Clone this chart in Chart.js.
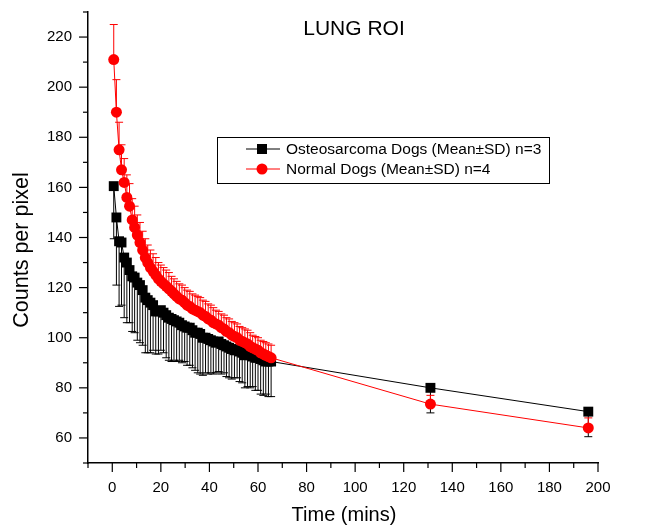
<!DOCTYPE html>
<html>
<head>
<meta charset="utf-8">
<script src="https://cdn.jsdelivr.net/npm/chart.js@4/dist/chart.umd.min.js"></script>
<style>
html,body{margin:0;padding:0;background:#fff;}
#wrap{position:relative;width:657px;height:529px;}
</style>
</head>
<body>
<div id="wrap"><canvas id="c" width="657" height="529"></canvas></div>
<script>
// ---- data ----
const times = [0.6,1.7,2.8,3.8,4.9,6.0,7.1,8.2,9.2,10.3,11.4,12.5,13.6,14.6,15.7,16.8,17.9,19.0,20.0,21.1,22.2,23.3,24.4,25.4,26.5,27.6,28.7,29.8,30.8,31.9,33.0,34.1,35.2,36.2,37.3,38.4,39.5,40.6,41.6,42.7,43.8,44.9,46.0,47.0,48.1,49.2,50.3,51.4,52.4,53.5,54.6,55.7,56.8,57.8,58.9,60.0,61.1,62.2,63.2,64.3,65.4,131,196];

const osteoMean = [160.5,148,138.5,138,132,130,127,124.5,124,122,121,119,116,115,114,113,110.5,110.5,111,110,109,108,107.5,107,106.5,106,105,104.5,104,104,103,102,102,101.5,100,100,99.5,99,98.5,98,98.5,97.5,97,96.5,96,95.5,95,95,94.5,94,93,93.5,93,92.5,92,92,91.5,91,90.5,90.5,90.5,80,70.5];
const osteoSD = [21,27,26,25,24,24,21,22,22,23,23,22,22,21,20,18,17,17,16,16,17,17,17,16,16,15,15,14,15,15,15,15,16,16,15,14,14,13,13,12,12,12,11,12,12,12,11,11,12,12,13,13,13,12,13,13,14,14,13,14,14,10,10];

const normalMean = [211,190,175,167,162,156,152.5,147,144,141,138,135,132,130,128,126.5,125,123.5,122.5,121.5,120.5,119.5,118.5,117.5,116.5,115.5,115,114,113,112.5,111.5,111,110.5,110,109,108.5,107.5,107,106,105.5,105,104,103.5,102.5,102,101,100.5,100,99,98.5,98,97.5,96.5,96,95.5,95,94,93.5,93,92.5,92,73.5,64];
const normalSD = [14,13,11,10,9.5,9,9,8.5,8.5,8,8,7.5,7.5,7,7,7,7,6.5,6.5,6.5,6.5,6.5,6,6,6,6,6,6,6,6,6,6,6,6,6,6,6,6,6,5.5,5.5,5.5,5.5,5.5,5.5,5.5,5.5,5.5,5.5,5.5,5.5,5.5,5.5,5,5,5,5,5,5,5,5,3.5,4];

const seriesNames = ['Osteosarcoma Dogs (Mean\u00B1SD) n=3', 'Normal Dogs (Mean\u00B1SD) n=4'];
const xTickLabels = [0,20,40,60,80,100,120,140,160,180,200];
const yTickLabels = [60,80,100,120,140,160,180,200,220];
const chartTitle = 'LUNG ROI';
const xTitle = 'Time (mins)';
const yTitle = 'Counts per pixel';

const FONT = '"Liberation Sans", Arial, Helvetica, sans-serif';

// ---- plugins ----
const errPlugin = {
  id: 'errbars',
  beforeDatasetDraw(chart, args) {
    const ds = chart.data.datasets[args.index];
    if (!ds.errors) return;
    const xs = chart.scales.x, ys = chart.scales.y, ctx = chart.ctx;
    ctx.save();
    ctx.strokeStyle = ds.borderColor;
    ctx.lineWidth = 1;
    ds.data.forEach((p, i) => {
      const x = xs.getPixelForValue(p.x);
      const y0 = ys.getPixelForValue(p.y);
      const y1 = ys.getPixelForValue(p.y + ds.errDir * ds.errors[i]);
      ctx.beginPath();
      ctx.moveTo(x, y0); ctx.lineTo(x, y1);
      ctx.moveTo(x - 4, y1); ctx.lineTo(x + 4, y1);
      ctx.stroke();
    });
    ctx.restore();
  }
};

const decoPlugin = {
  id: 'deco',
  afterDraw(chart) {
    const ctx = chart.ctx, xs = chart.scales.x, ys = chart.scales.y;
    const area = chart.chartArea;
    ctx.save();
    ctx.strokeStyle = '#000';
    ctx.lineWidth = 1.2;
    // x ticks
    xs.ticks.forEach(t => {
      const px = xs.getPixelForValue(t.value);
      const len = xTickLabels.includes(t.value) ? 9 : 5;
      ctx.beginPath(); ctx.moveTo(px, area.bottom); ctx.lineTo(px, area.bottom + len); ctx.stroke();
    });
    // y ticks
    ys.ticks.forEach(t => {
      const py = ys.getPixelForValue(t.value);
      const len = yTickLabels.includes(t.value) ? 9 : 5;
      ctx.beginPath(); ctx.moveTo(area.left, py); ctx.lineTo(area.left - len, py); ctx.stroke();
    });

    // titles
    ctx.fillStyle = '#000';
    ctx.textAlign = 'center';
    ctx.textBaseline = 'middle';
    ctx.font = '21px ' + FONT;
    ctx.fillText(chartTitle, 354, 29);
    ctx.font = '20px ' + FONT;
    ctx.fillText(xTitle, 344, 515);
    ctx.save();
    ctx.translate(22, 250);
    ctx.rotate(-Math.PI / 2);
    ctx.font = '21.5px ' + FONT;
    ctx.fillText(yTitle, 0, 0);
    ctx.restore();

    // legend
    ctx.lineWidth = 1;
    ctx.strokeStyle = '#000';
    ctx.strokeRect(217.5, 137.5, 332, 46);
    const rows = [
      {y: 149, color: '#000', style: 'rect'},
      {y: 169, color: '#ff0000', style: 'circle'}
    ];
    rows.forEach((r, i) => {
      ctx.strokeStyle = r.color;
      ctx.fillStyle = r.color;
      ctx.beginPath(); ctx.moveTo(246, r.y); ctx.lineTo(280, r.y); ctx.stroke();
      if (r.style === 'rect') {
        ctx.fillRect(257, r.y - 5, 10, 10);
      } else {
        ctx.beginPath(); ctx.arc(262, r.y, 5.5, 0, Math.PI * 2); ctx.fill();
      }
      ctx.fillStyle = '#000';
      ctx.textAlign = 'left';
      ctx.font = '15.5px ' + FONT;
      ctx.fillText(seriesNames[i], 286, r.y + 1);
    });
    ctx.restore();
  }
};

const ctx = document.getElementById('c').getContext('2d');
new Chart(ctx, {
  type: 'scatter',
  data: {
    datasets: [
      {
        label: seriesNames[0],
        data: times.map((t, i) => ({x: t, y: osteoMean[i]})),
        showLine: true,
        borderColor: '#000000',
        backgroundColor: '#000000',
        borderWidth: 1,
        pointStyle: 'rect',
        pointRadius: 7,
        pointBorderWidth: 0,
        pointHoverRadius: 7,
        tension: 0,
        errors: osteoSD,
        errDir: -1,
        order: 1,
        clip: false
      },
      {
        label: seriesNames[1],
        data: times.map((t, i) => ({x: t, y: normalMean[i]})),
        showLine: true,
        borderColor: '#ff0000',
        backgroundColor: '#ff0000',
        borderWidth: 1,
        pointStyle: 'circle',
        pointRadius: 5.5,
        pointBorderWidth: 0,
        pointHoverRadius: 5.5,
        tension: 0,
        errors: normalSD,
        errDir: 1,
        order: 0,
        clip: false
      }
    ]
  },
  options: {
    responsive: false,
    animation: false,
    devicePixelRatio: 1,
    layout: {padding: {left: 0, right: 59, top: 12, bottom: 0}},
    plugins: {
      legend: {display: false},
      tooltip: {enabled: false},
      title: {display: false}
    },
    scales: {
      x: {
        type: 'linear',
        min: -10, max: 200,
        afterFit(s) { s.height = 66; s.paddingLeft = 0; s.paddingRight = 0; },
        grid: {display: false, drawTicks: false},
        border: {display: true, color: '#000', width: 1.5},
        ticks: {
          stepSize: 10,
          autoSkip: false,
          maxRotation: 0,
          padding: 16,
          color: '#000',
          font: {size: 15, family: FONT},
          callback: v => xTickLabels.includes(v) ? String(v) : ''
        }
      },
      y: {
        type: 'linear',
        min: 50, max: 230,
        afterFit(s) { s.width = 88; s.paddingTop = 0; s.paddingBottom = 0; },
        grid: {display: false, drawTicks: false},
        border: {display: true, color: '#000', width: 1.5},
        ticks: {
          stepSize: 10,
          autoSkip: false,
          padding: 16,
          color: '#000',
          font: {size: 15, family: FONT},
          callback: v => yTickLabels.includes(v) ? String(v) : ''
        }
      }
    }
  },
  plugins: [errPlugin, decoPlugin]
});
</script>
</body>
</html>
